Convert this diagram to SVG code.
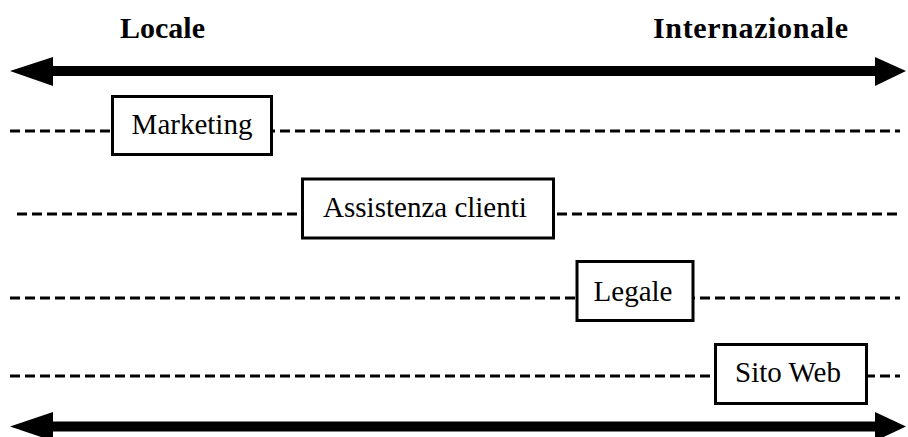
<svg xmlns="http://www.w3.org/2000/svg" width="908" height="437" viewBox="0 0 908 437">
  <style>
    .title { font-family: "Liberation Serif", "Times New Roman", serif; font-weight: bold; font-size: 30px; fill: #000; }
    .label { font-family: "Liberation Serif", "Times New Roman", serif; font-size: 29px; fill: #000; text-anchor: middle; }
    .box { fill: #fff; stroke: #000; stroke-width: 3; }
    .dash { stroke: #000; stroke-width: 3; stroke-dasharray: 10 5; fill: none; }
    .shaft { stroke: #000; stroke-width: 10; fill: none; }
    .head { fill: #000; }
  </style>
  <rect width="908" height="437" fill="#fff"/>

  <g id="titles">
    <text class="title" x="120" y="38">Locale</text>
    <text class="title" x="653" y="38" textLength="195" lengthAdjust="spacing">Internazionale</text>
  </g>

  <g id="axes">
    <line class="shaft" x1="50" y1="71" x2="880" y2="71"/>
    <polygon class="head" points="10,71 53,57 53,86"/>
    <polygon class="head" points="906,71 875,57 875,86"/>
    <line class="shaft" x1="50" y1="426.5" x2="880" y2="426.5"/>
    <polygon class="head" points="10,426.5 53,412 53,441"/>
    <polygon class="head" points="906,426.5 875,412 875,441"/>
  </g>

  <g id="connectors">
    <line class="dash" x1="10" y1="131" x2="900" y2="131"/>
    <line class="dash" x1="17" y1="214" x2="900" y2="214"/>
    <line class="dash" x1="10" y1="298" x2="900" y2="298"/>
    <line class="dash" x1="10" y1="376" x2="900" y2="376"/>
  </g>

  <g id="marketing">
    <rect class="box" x="112.5" y="96.5" width="159" height="58"/>
    <text class="label" x="192" y="134">Marketing</text>
  </g>
  <g id="assistenza">
    <rect class="box" x="302.5" y="179" width="251" height="59"/>
    <text class="label" x="425" y="217">Assistenza clienti</text>
  </g>
  <g id="legale">
    <rect class="box" x="577" y="261.5" width="116" height="59"/>
    <text class="label" x="633" y="301">Legale</text>
  </g>
  <g id="sitoweb">
    <rect class="box" x="715.5" y="344.5" width="151" height="59"/>
    <text class="label" x="788" y="382">Sito Web</text>
  </g>
</svg>
